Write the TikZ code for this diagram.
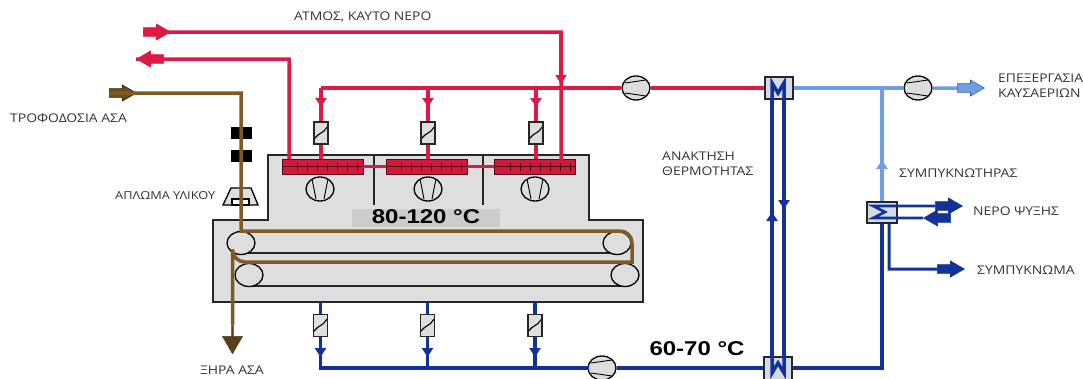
\documentclass[tikz,border=0pt]{standalone}
\usepackage{fontspec}
\setmainfont{Open Sans}
\newfontfamily\lblfont{Open Sans}[FakeStretch=1.16]
\newfontfamily\tempfont{Liberation Sans Bold}[FakeStretch=1.2]
\usetikzlibrary{arrows.meta,shapes.geometric,shapes.arrows,calc}
\definecolor{pipered}{HTML}{DC1A44}
\definecolor{heatred}{HTML}{D8163C}
\definecolor{pipeblue}{HTML}{12329A}
\definecolor{pipelight}{HTML}{6E9FE6}
\definecolor{pipebrown}{HTML}{7F5A24}
\definecolor{housegray}{HTML}{DEDEDE}
\definecolor{hxgray}{HTML}{D5DBE6}
\definecolor{labelink}{HTML}{333333}
\tikzset{
  lbl/.style={font=\lblfont\fontsize{12}{14}\selectfont,text=labelink,inner sep=0pt,anchor=west},
  lblsmall/.style={lbl,font=\lblfont\fontsize{11}{13}\selectfont},
  templbl/.style={font=\tempfont\fontsize{20}{22}\selectfont,text=black,inner sep=0pt},
  redpipe/.style={draw=pipered,line width=3.5pt},
  bluepipe/.style={draw=pipeblue,line width=3.5pt},
  lightpipe/.style={draw=pipelight,line width=3.5pt},
  brownpipe/.style={draw=pipebrown,line width=3.5pt},
  tipsmall/.style={-{Triangle[width=11pt,length=9pt]}},
  blockarrow/.style={single arrow,draw=#1,line width=.6pt,single arrow head extend=3.5pt,single arrow tip angle=60,minimum width=16pt,minimum height=27pt,inner sep=0pt},
  pump/.style={ellipse,draw=black,line width=1.3pt,fill=#1,minimum width=28pt,minimum height=24pt,inner sep=0pt,
    path picture={\draw[black,line width=.9pt] (path picture bounding box.west) ++(3pt,5pt) -- ++(21pt,3pt) (path picture bounding box.west) ++(3pt,-5pt) -- ++(21pt,-3pt);}},
  fan/.style={ellipse,draw=black,line width=1.3pt,fill=housegray,minimum width=28pt,minimum height=24pt,inner sep=0pt,
    path picture={\draw[black,line width=.9pt] (path picture bounding box.center) ++(-8pt,10pt) -- ++(4pt,-20pt) (path picture bounding box.center) ++(8pt,10pt) -- ++(-4pt,-20pt);}},
  valve/.style={rectangle,draw=black!85,line width=1.1pt,fill=housegray,minimum width=14pt,minimum height=22pt,inner sep=0pt,
    path picture={\draw[black,line width=1.1pt] (path picture bounding box.center) ++(-7pt,-6pt) -- ++(4pt,4pt) -- ++(6pt,4pt) -- ++(4pt,5pt);}},
  heater/.style={rectangle,draw=black!60!heatred,line width=.8pt,fill=heatred,minimum width=81pt,minimum height=15pt,inner sep=0pt,
    path picture={\draw[black!70!heatred,line width=.9pt] (path picture bounding box.west) -- (path picture bounding box.east);
      \foreach \tx in {-25,-15,-5,5,15,25,35}{\draw[black!70!heatred,line width=.9pt] (path picture bounding box.center) ++(\tx pt,4pt) -- ++(0,-8pt);}}},
  block/.style={rectangle,fill=black,minimum width=21pt,minimum height=12pt,inner sep=0pt},
  hxbox/.style={rectangle,draw=black!85,line width=1.5pt,fill=hxgray,inner sep=0pt},
  roller/.style={ellipse,draw=black,line width=1.3pt,fill=housegray,minimum width=28pt,minimum height=23pt,inner sep=0pt},
  wall/.style={draw=black!85,line width=1.3pt},
}
\newcommand{\bodyrule}{\rule{0pt}{8pt}}
\begin{document}
\begin{tikzpicture}[x=1pt,y=-1pt]
\useasboundingbox (0,0) rectangle (1083,378);
% housing
\draw[wall,fill=housegray] (268,155) -- (589,155) -- (589,220) -- (643,220) -- (643,302) -- (213,302) -- (213,220) -- (268,220) -- cycle;
\draw[wall] (374,155) -- (374,205) (483,155) -- (483,205);
\fill[housegray!92!black] (352,209) rectangle (500,227);
% belts lower runs
\draw[wall] (245,253) -- (617,253) (252,286) -- (625,286);
% equipment
\node[heater] (h1) at (322.5,166.5) {};
\node[heater] (h2) at (426.5,166.5) {};
\node[heater] (h3) at (535,166.5) {};
\node[fan] (f1) at (320,189) {};
\node[fan] (f2) at (428,189) {};
\node[fan] (f3) at (535,189) {};
\node[roller] (r1) at (241,243) {};
\node[roller] (r2) at (249,275) {};
\node[roller] (r3) at (617,243) {};
\node[roller] (r4) at (625,275) {};
\node[valve] (vt1) at (321,133) {};
\node[valve] (vt2) at (428,133) {};
\node[valve] (vt3) at (536,133) {};
\node[valve] (vb1) at (320.5,325.5) {};
\node[valve] (vb2) at (427.5,325.5) {};
\node[valve] (vb3) at (535,325.5) {};
\node[pump=housegray] (p1) at (636,88) {};
\node[pump=housegray] (p2) at (602,368) {};
\node[pump=housegray] (p3) at (918,88) {};
\node[hxbox,minimum width=28pt,minimum height=22pt] (hxa) at (779,88) {};
\node[hxbox,minimum width=28pt,minimum height=26pt] (hxb) at (778,370) {};
\node[hxbox,minimum width=30pt,minimum height=21pt] (cond) at (882,212.5) {};
\node[block] (b1) at (241.5,132.5) {};
\node[block] (b2) at (241.5,156) {};
\draw[black,line width=1.3pt,fill=housegray] (231,188) -- (251,188) -- (258,205) -- (223,205) -- cycle;
\draw[black,line width=1.1pt,fill=white] (232,199) rectangle (249,205);
% block arrows
\node[blockarrow=pipered,fill=pipered] (asteam) at (153,32) {\bodyrule};
\node[blockarrow=pipered,fill=pipered,shape border rotate=180] (aret) at (154,59) {\bodyrule};
\node[blockarrow=black!60!pipebrown,fill=pipebrown!85!black] (afeed) at (119,93) {\bodyrule};
\node[blockarrow=pipebrown!70!black,fill=pipebrown!70!black,shape border rotate=270,minimum height=28pt,minimum width=20pt] (adry) at (232.5,339) {\bodyrule};
\node[blockarrow=pipelight!60!black,fill=pipelight] (aflue) at (967,88) {\bodyrule};
\node[blockarrow=pipeblue,fill=pipeblue] (acw1) at (945,206) {\bodyrule};
\node[blockarrow=pipeblue,fill=pipeblue,shape border rotate=180] (acw2) at (941,218) {\bodyrule};
\node[blockarrow=pipeblue,fill=pipeblue] (acond) at (947,269) {\bodyrule};
% junction coordinates
\coordinate (jt1) at (vt1 |- p1);
\coordinate (jt2) at (vt2 |- p1);
\coordinate (jt3) at (vt3 |- p1);
\coordinate (jb1) at (vb1 |- p2);
\coordinate (jb2) at (vb2 |- p2);
\coordinate (jb3) at (vb3 |- p2);
\coordinate (jlight) at (cond |- p3);
% red pipes
\draw[redpipe] (asteam.west) -- (561,32) -- (561,160);
\draw[redpipe,tipsmall] (561,32) -- (561,84);
\draw[redpipe] (aret.west) -- (289,59) -- (289,159);
\draw[redpipe] (jt1) -- (p1.west);
\draw[redpipe] (p1.east) -- (hxa.west);
\foreach \n in {1,2,3}{
  \draw[redpipe] (jt\n) -- (vt\n.north);
  \draw[redpipe,tipsmall] (jt\n) -- ++(0,19);
  \draw[redpipe] (vt\n.south) -- (vt\n |- h\n.north);
}
\draw[redpipe] (h1.east) -- (h2.west);
\draw[redpipe] (h2.east) -- (h3.west);
% blue pipes
\foreach \n in {1,2,3}{
  \draw[bluepipe] (vb\n |- 0,302) -- (vb\n.north);
  \draw[bluepipe] (vb\n.south) -- (jb\n);
  \draw[bluepipe,tipsmall] (vb\n.south) -- ++(0,20);
}
\draw[bluepipe,line cap=rect] (jb1) -- (p2.west);
\draw[bluepipe] (p2.east) -- (hxb.west |- p2);
\draw[bluepipe] (hxb.east |- p2) -- (cond |- p2) -- (cond.south);
\draw[bluepipe] (772,357) -- (772,99);
\draw[bluepipe] (784,99) -- (784,357);
\draw[bluepipe,tipsmall] (772,300) -- (772,212);
\draw[bluepipe,tipsmall] (784,120) -- (784,209);
\draw[bluepipe,line join=miter] (772,99) -- (772,83) -- (778,93) -- (784,83) -- (784,99);
\draw[bluepipe,line join=miter] (772,357) -- (772,373) -- (778,363) -- (784,373) -- (784,357);
% light pipes
\draw[lightpipe] (hxa.east) -- (p3.west);
\draw[lightpipe] (p3.east) -- (aflue.west);
\draw[lightpipe] (cond.north) -- (jlight);
\draw[lightpipe,tipsmall] (cond.north) -- (882,160);
% condenser
\draw[pipeblue,line width=2.6pt] (acw1.west) -- (873,206) -- (885,212) -- (873,218) -- (acw2.west);
\draw[pipeblue,line width=3pt] ($(cond.south)+(7,0)$) -- (889,269) -- (acond.west);
% product web
\draw[brownpipe] (afeed.west) -- (241,93) -- (241,231) -- (620,231) arc[start angle=-90,end angle=0,radius=12] -- (632,262) -- (245,262) arc[start angle=90,end angle=180,radius=12.5] -- (adry.north);
% labels
\node[lbl] (t1) at (294,17) {ΑΤΜΟΣ, ΚΑΥΤΟ ΝΕΡΟ};
\node[lbl] (t2) at (10,118) {ΤΡΟΦΟΔΟΣΙΑ ΑΣΑ};
\node[lblsmall] (t3) at (115,196) {ΑΠΛΩΜΑ ΥΛΙΚΟΥ};
\node[lbl] (t4) at (200,370) {ΞΗΡΑ ΑΣΑ};
\node[lbl] (t5) at (662,156) {ΑΝΑΚΤΗΣΗ};
\node[lbl] (t6) at (662,171) {ΘΕΡΜΟΤΗΤΑΣ};
\node[lbl] (t7) at (998,78) {ΕΠΕΞΕΡΓΑΣΙΑ};
\node[lbl] (t8) at (998,93) {ΚΑΥΣΑΕΡΙΩΝ};
\node[lbl] (t9) at (899,173) {ΣΥΜΠΥΚΝΩΤΗΡΑΣ};
\node[lbl] (t10) at (973,211) {ΝΕΡΟ ΨΥΞΗΣ};
\node[lbl] (t11) at (977,270) {ΣΥΜΠΥΚΝΩΜΑ};
\node[templbl] (t12) at (426,217) {80-120 °C};
\node[templbl] (t13) at (697,349) {60-70 °C};
\end{tikzpicture}
\end{document}
